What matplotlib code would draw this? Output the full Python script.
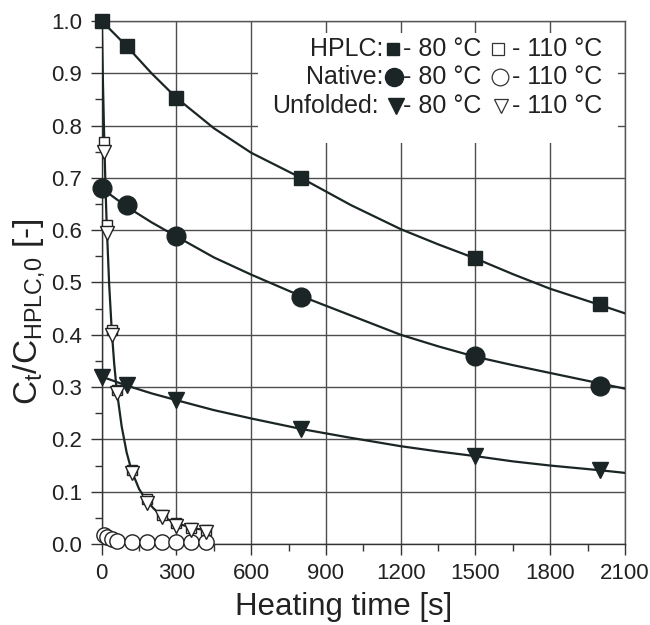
import matplotlib
matplotlib.use('Agg')
import matplotlib.pyplot as plt
from matplotlib.ticker import MultipleLocator, FormatStrFormatter
from matplotlib.patches import Rectangle

plt.rcParams['font.family'] = ['Liberation Sans', 'DejaVu Sans']
plt.rcParams['mathtext.fontset'] = 'custom'
plt.rcParams['mathtext.rm'] = 'Liberation Sans'
plt.rcParams['mathtext.it'] = 'Liberation Sans'

# ---- data: 80 °C measurements ----
t80 = [0, 100, 300, 800, 1500, 2000]
hplc80 = [1.0, 0.952, 0.852, 0.700, 0.547, 0.459]
native80 = [0.680, 0.648, 0.589, 0.473, 0.360, 0.303]
unfold80 = [0.320, 0.304, 0.275, 0.219, 0.168, 0.141]

# ---- data: 110 °C measurements ----
t110 = [10, 20, 40, 60, 120, 180, 240, 300, 360, 420]
hplc110 = [0.769, 0.610, 0.409, 0.294, 0.141, 0.086, 0.055, 0.040, 0.031, 0.027]
native110 = [0.018, 0.013, 0.009, 0.006, 0.004, 0.003, 0.003, 0.003, 0.003, 0.003]
unfold110 = [0.749, 0.594, 0.400, 0.289, 0.136, 0.078, 0.052, 0.034, 0.027, 0.023]

# ---- fitted curves ----
tc80 = [0, 100, 200, 300, 450, 600, 800, 1000, 1200, 1350, 1500, 1650, 1800, 2000, 2100]
hplc80_fit = [1.0, 0.952, 0.900, 0.853, 0.795, 0.748, 0.700, 0.648, 0.602, 0.573,
              0.546, 0.516, 0.488, 0.457, 0.441]
native80_fit = [0.680, 0.645, 0.615, 0.588, 0.548, 0.515, 0.474, 0.437, 0.400, 0.378,
                0.358, 0.342, 0.327, 0.307, 0.297]
unfold80_fit = [0.320, 0.303, 0.288, 0.275, 0.256, 0.240, 0.220, 0.203, 0.187, 0.177,
                0.168, 0.158, 0.150, 0.141, 0.136]
tc110 = [0, 5, 10, 15, 20, 30, 40, 50, 60, 80, 100, 120, 150, 180, 210, 240, 270, 300, 360, 420]
hplc110_fit = [1.0, 0.880, 0.775, 0.685, 0.610, 0.495, 0.410, 0.345, 0.295, 0.225, 0.175,
               0.140, 0.105, 0.083, 0.067, 0.055, 0.046, 0.040, 0.031, 0.026]

# ---- labels ----
xticks = [0, 300, 600, 900, 1200, 1500, 1800, 2100]
xlabel = 'Heating time [s]'
ylabel = r'C$_\mathregular{t}$/C$_\mathregular{HPLC{,}0}$ [-]'
rows = ['HPLC:', 'Native:', 'Unfolded:']
lab80 = '- 80 °C'
lab110 = '- 110 °C'

dark = '#1b2525'
gridc = '#4d4d4d'
txtc = '#222222'

fig = plt.figure(figsize=(6.5, 6.25), dpi=100)
ax = fig.add_axes([0.1565, 0.1296, 0.8050, 0.8368])
ax.set_xlim(0, 2100)
ax.set_ylim(0, 1.0)

ax.set_xticks(xticks)
ax.xaxis.set_minor_locator(MultipleLocator(150))
ax.yaxis.set_major_locator(MultipleLocator(0.1))
ax.yaxis.set_minor_locator(MultipleLocator(0.05))
ax.yaxis.set_major_formatter(FormatStrFormatter('%.1f'))
ax.tick_params(which='major', direction='out', length=8, width=1, color='#333333',
               labelsize=16, labelcolor=txtc, pad=6)
ax.tick_params(which='minor', direction='out', length=5, width=1, color='#333333')
ax.grid(True, which='major', color=gridc, lw=1.0, zorder=0)
ax.set_axisbelow(True)
for s in ax.spines.values():
    s.set_color('#555555')
    s.set_linewidth(1.0)
ax.spines['bottom'].set_color('#333333')
ax.spines['left'].set_color('#333333')

# white box behind legend text
ax.add_patch(Rectangle((0.299, 0.766), 0.688, 0.212, transform=ax.transAxes,
                       facecolor='white', edgecolor='none', zorder=1.5))

lw = 1.6
ax.plot(tc80, hplc80_fit, color=dark, lw=lw, zorder=3)
ax.plot(tc80, native80_fit, color=dark, lw=lw, zorder=3)
ax.plot(tc80, unfold80_fit, color=dark, lw=lw, zorder=3)
ax.plot(tc110, hplc110_fit, color=dark, lw=lw, zorder=3)

ax.plot(t110, native110, ls='none', marker='o', ms=11, mfc='white', mec='#222222',
        mew=1.0, zorder=4, clip_on=False)
ax.plot(t110, hplc110, ls='none', marker='s', ms=7.5, mfc='white', mec='#222222',
        mew=1.0, zorder=4, clip_on=False)
ax.plot(t110, unfold110, ls='none', marker='v', ms=10, mfc='white', mec='#222222',
        mew=1.0, zorder=4, clip_on=False)

ax.plot(t80, hplc80, ls='none', marker='s', ms=9.5, color=dark, zorder=5, clip_on=False)
ax.plot(t80, native80, ls='none', marker='o', ms=13.5, color=dark, zorder=5, clip_on=False)
ax.plot(t80, unfold80, ls='none', marker='v', ms=11.5, color=dark, zorder=5, clip_on=False)

ax.set_xlabel(xlabel, fontsize=22.5, color=txtc)
ax.xaxis.set_label_coords(0.462, -0.092)
ax.set_ylabel(ylabel, fontsize=24, color=txtc)
ax.yaxis.set_label_coords(-0.104, 0.445)

# legend built by hand
row_y = [0.947, 0.892, 0.837]
filled = [dict(marker='s', ms=8, mfc=dark, mec=dark),
          dict(marker='o', ms=13, mfc=dark, mec=dark),
          dict(marker='v', ms=11, mfc=dark, mec=dark)]
opened = [dict(marker='s', ms=8, mfc='white', mec='#333333', mew=0.9),
          dict(marker='o', ms=12, mfc='white', mec='#333333', mew=0.9),
          dict(marker='v', ms=10, mfc='white', mec='#333333', mew=0.9)]
xm80 = [0.556, 0.559, 0.562]
xm110 = [0.757, 0.761, 0.763]
for i, y in enumerate(row_y):
    ax.text(0.538 if i < 2 else 0.530, y, rows[i], transform=ax.transAxes, ha='right',
            va='center', fontsize=18, color=txtc, zorder=6)
    ax.plot([xm80[i]], [y], transform=ax.transAxes, ls='none', zorder=6, clip_on=False, **filled[i])
    ax.text(0.725, y, lab80, transform=ax.transAxes, ha='right', va='center',
            fontsize=18, color=txtc, zorder=6)
    ax.plot([xm110[i]], [y], transform=ax.transAxes, ls='none', zorder=6, clip_on=False, **opened[i])
    ax.text(0.956, y, lab110, transform=ax.transAxes, ha='right', va='center',
            fontsize=18, color=txtc, zorder=6)

fig.savefig('out.png', dpi=100)
